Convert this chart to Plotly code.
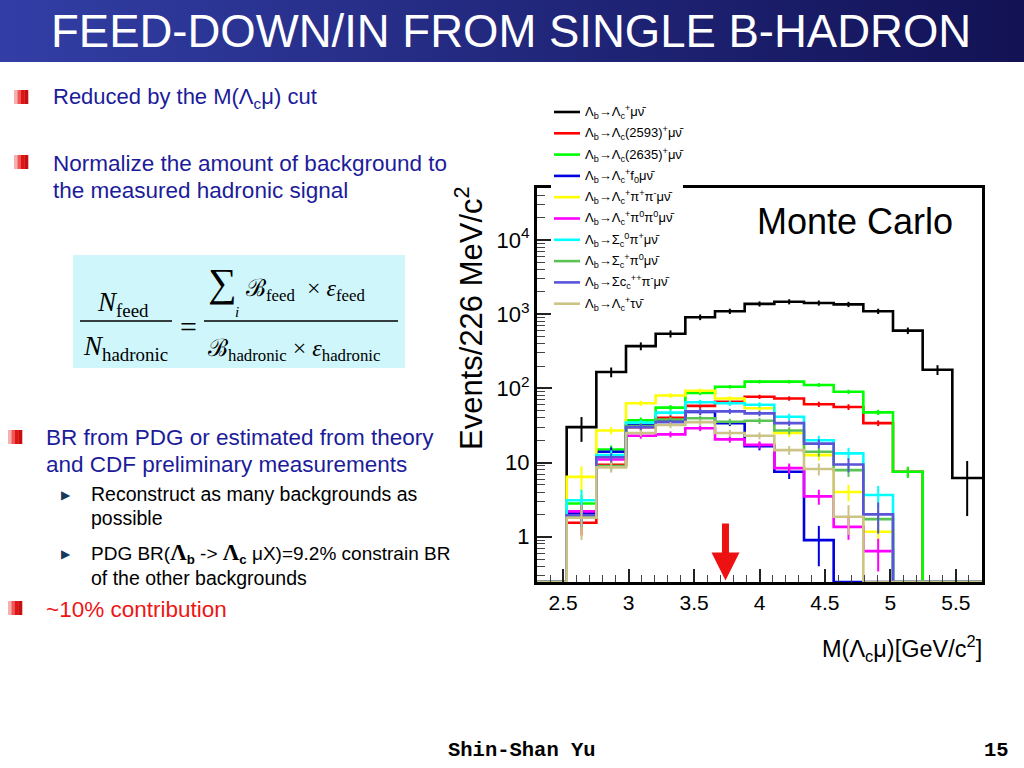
import plotly.graph_objects as go

# ---------------- data ----------------
bin_lo = 2.3
bin_hi = 5.7
n_bins = 15

series_names = [
    "Λ<sub>b</sub>→Λ<sub>c</sub><sup>+</sup>μν̄",
    "Λ<sub>b</sub>→Λ<sub>c</sub>(2593)<sup>+</sup>μν̄",
    "Λ<sub>b</sub>→Λ<sub>c</sub>(2635)<sup>+</sup>μν̄",
    "Λ<sub>b</sub>→Λ<sub>c</sub><sup>+</sup>f<sub>0</sub>μν̄",
    "Λ<sub>b</sub>→Λ<sub>c</sub><sup>+</sup>π<sup>+</sup>π<sup>-</sup>μν̄",
    "Λ<sub>b</sub>→Λ<sub>c</sub><sup>+</sup>π<sup>0</sup>π<sup>0</sup>μν̄",
    "Λ<sub>b</sub>→Σ<sub>c</sub><sup>0</sup>π<sup>+</sup>μν̄",
    "Λ<sub>b</sub>→Σ<sub>c</sub><sup>+</sup>π<sup>0</sup>μν̄",
    "Λ<sub>b</sub>→Σc<sub>c</sub><sup>++</sup>π<sup>-</sup>μν̄",
    "Λ<sub>b</sub>→Λ<sub>c</sub><sup>+</sup>τν̄",
]
series_colors = ["#000000", "#ff0000", "#00ff00", "#0000e0", "#ffff00",
                 "#ff00ff", "#00ffff", "#59c454", "#5954d8", "#ccc386"]

lc_mu_nu      = [0, 30, 166, 371, 544, 910, 1093, 1375, 1470, 1416, 1355, 1093, 600, 178, 6.2]
lc2593_mu_nu  = [0, 1.54, 9.3, 30, 40, 58, 66, 77, 73, 61, 56, 34, 7.5, 0, 0]
lc2635_mu_nu  = [0, 2.8, 15, 37, 55, 87, 105, 123, 123, 111, 90, 47.5, 7.5, 0, 0]
lc_f0_mu_nu   = [0, 2.1, 14, 32, 36, 48, 34, 16.6, 7.5, 0.9, 0, 0, 0, 0, 0]
lc_pipi_mu_nu = [0, 6.4, 27, 63, 80, 93, 73, 54, 25, 12.6, 4.0, 1.17, 0, 0, 0]
lc_pi0pi0_mu_nu = [0, 2.2, 11, 23, 24, 29, 20.5, 17.3, 8.4, 3.5, 1.36, 0.64, 0, 0, 0]
sc0_pi_mu_nu  = [0, 3.1, 12.6, 34.5, 47, 65, 63, 60, 41.5, 20, 13.3, 3.65, 0, 0, 0]
scp_pi0_mu_nu = [0, 1.9, 9, 31, 38, 39.5, 35.5, 36.5, 27, 14, 7.9, 1.73, 0, 0, 0]
scpp_pi_mu_nu = [0, 1.95, 11.8, 30, 35, 49, 49, 46, 34, 18, 9.4, 2.0, 0, 0, 0]
lc_tau_nu     = [0, 1.8, 8.6, 25, 32, 35, 25, 23, 14.7, 8.2, 1.86, 0, 0, 0, 0]

err_lc_mu_nu      = [0, 11, 25, 45, 60, 80, 90, 110, 115, 112, 110, 90, 60, 27, 4.3]
err_lc2593_mu_nu  = [0, 0.5, 1.2, 3, 4, 5, 5, 5, 5, 5, 5, 3, 1, 0, 0]
err_lc2635_mu_nu  = [0, 0.9, 2, 3.5, 4.5, 6, 6, 7, 7, 7, 6, 4, 1.3, 0, 0]
err_lc_f0_mu_nu   = [0, 0.6, 2.0, 3, 3, 4, 3, 2, 1.5, 0.5, 0, 0, 0, 0, 0]
err_lc_pipi_mu_nu = [0, 2.5, 3, 5, 6, 7, 6, 5, 3, 2, 1, 0.35, 0, 0, 0]
err_lc_pi0pi0_mu_nu = [0, 0.7, 1.5, 2, 2.2, 2.5, 2, 2, 1.3, 0.8, 0.45, 0.3, 0, 0, 0]
err_sc0_pi_mu_nu  = [0, 1.2, 2, 3, 4, 5, 5, 5, 4, 3, 2.5, 1.2, 0, 0, 0]
err_scp_pi0_mu_nu = [0, 0.6, 1.3, 3, 3, 3.5, 3.5, 3.5, 3, 2, 1.5, 0.6, 0, 0, 0]
err_scpp_pi_mu_nu = [0, 0.6, 1.5, 3, 3, 4, 4, 4, 3, 2.5, 2, 0.9, 0, 0, 0]
err_lc_tau_nu     = [0, 0.9, 1.3, 2.5, 3, 3, 2.5, 2.5, 2, 1.5, 0.8, 0, 0, 0, 0]

series_values = [lc_mu_nu, lc2593_mu_nu, lc2635_mu_nu, lc_f0_mu_nu, lc_pipi_mu_nu,
                 lc_pi0pi0_mu_nu, sc0_pi_mu_nu, scp_pi0_mu_nu, scpp_pi_mu_nu, lc_tau_nu]
series_errors = [err_lc_mu_nu, err_lc2593_mu_nu, err_lc2635_mu_nu, err_lc_f0_mu_nu,
                 err_lc_pipi_mu_nu, err_lc_pi0pi0_mu_nu, err_sc0_pi_mu_nu,
                 err_scp_pi0_mu_nu, err_scpp_pi_mu_nu, err_lc_tau_nu]

x_tick_vals = [2.5, 3, 3.5, 4, 4.5, 5, 5.5]
x_tick_text = ["2.5", "3", "3.5", "4", "4.5", "5", "5.5"]
y_tick_vals = [1, 10, 100, 1000, 10000]
y_tick_text = ["1", "10", "10<sup>2</sup>", "10<sup>3</sup>", "10<sup>4</sup>"]
mass_cut = 3.74

# ---------------- layout helpers ----------------
W, H = 1024, 768
Y_LOG_MIN, Y_LOG_MAX = -0.61, 4.70
FLOOR = 10 ** Y_LOG_MIN


def px(x):
    return x / W


def py(y):
    return 1 - y / H


width = (bin_hi - bin_lo) / n_bins
edges = [bin_lo + k * width for k in range(n_bins + 1)]
centers = [bin_lo + (k + 0.5) * width for k in range(n_bins)]

NARROW = "Liberation Sans Narrow, Arial Narrow, Liberation Sans, Arial"
SANS = "Liberation Sans, Arial, sans-serif"
SERIF = "Liberation Serif, Times New Roman, DejaVu Serif, serif"

fig = go.Figure()

for name, vals, errs, col in zip(series_names, series_values, series_errors, series_colors):
    ys = [v if v > 0 else FLOOR for v in vals]
    fig.add_trace(go.Scatter(
        x=edges, y=ys + [ys[-1]], mode="lines", line=dict(color=col, width=2.6, shape="hv"),
        name=name, showlegend=False, hoverinfo="skip"))
    cx = [c for c, v in zip(centers, vals) if v > 0]
    cy = [v for v in vals if v > 0]
    ce = [e for e, v in zip(errs, vals) if v > 0]
    fig.add_trace(go.Scatter(
        x=cx, y=cy, mode="markers", marker=dict(size=2, color=col),
        error_y=dict(type="data", array=ce, width=0, thickness=2, color=col),
        showlegend=False, hoverinfo="skip"))

# y minor ticks (2..9 per decade)
y_minor = []
for d in range(-1, 5):
    for m in range(2, 10):
        v = m * 10 ** d
        if FLOOR < v < 10 ** Y_LOG_MAX:
            y_minor.append(v)

fig.update_layout(
    width=W, height=H,
    margin=dict(l=0, r=0, t=0, b=0),
    paper_bgcolor="white", plot_bgcolor="white",
    showlegend=False,
    xaxis=dict(
        domain=[px(537), px(982)], range=[bin_lo, bin_hi],
        tickmode="array", tickvals=x_tick_vals, ticktext=x_tick_text,
        ticks="inside", ticklen=13, tickwidth=1.5, tickcolor="#222",
        minor=dict(ticks="inside", ticklen=7, tickwidth=1, tickcolor="#444",
                   tick0=bin_lo, dtick=0.1, showgrid=False),
        showline=True, linewidth=3, linecolor="black", mirror=True,
        showgrid=False, zeroline=False,
        tickfont=dict(family=NARROW, size=21, color="black"),
    ),
    yaxis=dict(
        domain=[py(582), py(188)], type="log", range=[Y_LOG_MIN, Y_LOG_MAX],
        tickmode="array", tickvals=y_tick_vals, ticktext=y_tick_text,
        ticks="inside", ticklen=15, tickwidth=1.5, tickcolor="#222",
        minor=dict(ticks="inside", ticklen=8, tickwidth=1, tickcolor="#444",
                   tickmode="array", tickvals=y_minor, showgrid=False),
        showline=True, linewidth=3, linecolor="black", mirror=True,
        showgrid=False, zeroline=False,
        tickfont=dict(family=NARROW, size=22, color="black"),
    ),
)

shapes = []
annotations = []

# title bar gradient
n_strips = 64
c0 = (50, 62, 165)
c1 = (18, 18, 85)
for i in range(n_strips):
    t = i / (n_strips - 1)
    col = "rgb(%d,%d,%d)" % tuple(round(a + (b - a) * t) for a, b in zip(c0, c1))
    shapes.append(dict(type="rect", xref="paper", yref="paper",
                       x0=i / n_strips, x1=(i + 1) / n_strips + 0.002,
                       y0=py(62), y1=1, fillcolor=col, line=dict(width=0), layer="below"))
annotations.append(dict(text="FEED-DOWN/IN FROM SINGLE B-HADRON", xref="paper", yref="paper",
                        x=px(511), y=py(31), showarrow=False, xanchor="center", yanchor="middle",
                        font=dict(family=SANS, size=45.5, color="white")))


def bullet_square(x, y):
    for j, col in enumerate(["#f7b0b0", "#ee5555", "#dd1515", "#c80f0f"]):
        shapes.append(dict(type="rect", xref="paper", yref="paper",
                           x0=px(x + j * 3.5), x1=px(x + (j + 1) * 3.5 + 0.3),
                           y0=py(y + 7), y1=py(y - 7), fillcolor=col, line=dict(width=0)))


def text(s, x, y, size, color="black", family=SANS, anchor="left"):
    annotations.append(dict(text=s, xref="paper", yref="paper", x=px(x), y=py(y),
                            showarrow=False, xanchor=anchor, yanchor="middle",
                            font=dict(family=family, size=size, color=color)))


BLUE = "#1c1c9a"
bullet_square(14, 97)
text("Reduced by the M(Λ<sub>c</sub>μ) cut", 51, 98, 22, BLUE)
bullet_square(14, 162)
text("Normalize the amount of background to", 51, 163, 22.5, BLUE)
text("the measured hadronic signal", 51, 190, 22.5, BLUE)

# formula box
shapes.append(dict(type="rect", xref="paper", yref="paper", x0=px(73), x1=px(405),
                   y0=py(368), y1=py(255), fillcolor="#cff7fb", line=dict(width=0)))
shapes.append(dict(type="line", xref="paper", yref="paper", x0=px(80), x1=px(172),
                   y0=py(321), y1=py(321), line=dict(color="black", width=1.3)))
shapes.append(dict(type="line", xref="paper", yref="paper", x0=px(204), x1=px(398),
                   y0=py(321), y1=py(321), line=dict(color="black", width=1.3)))
text("<i>N</i><sub>feed</sub>", 95, 304, 27, "black", SERIF)
text("<i>N</i><sub>hadronic</sub>", 81, 348, 27, "black", SERIF)
text("=", 188, 326, 30, "black", SERIF, "center")
text("∑", 222, 283, 40, "black", SERIF, "center")
text("<i>i</i>", 237, 312, 15, "black", SERIF, "center")
text("ℬ<sub>feed</sub>  × <i>ε</i><sub>feed</sub>", 244, 290, 24, "black", SERIF)
text("ℬ<sub>hadronic</sub> × <i>ε</i><sub>hadronic</sub>", 206, 350, 24, "black", SERIF)

bullet_square(8, 437)
text("BR from PDG or estimated from theory", 44, 437, 22.5, BLUE)
text("and CDF preliminary measurements", 44, 464, 22.5, BLUE)
NAVY = "#17375e"
text("▶", 66, 495, 12, NAVY, "DejaVu Sans", "center")
text("Reconstruct as many backgrounds as", 89, 494, 19.5, "black")
text("possible", 89, 518, 19.5, "black")
text("▶", 66, 554, 12, NAVY, "DejaVu Sans", "center")
text("PDG BR(<span style=\"font-family:Liberation Serif;font-size:23px\"><b>Λ</b></span><b><sub>b</sub></b> -&gt; "
     "<span style=\"font-family:Liberation Serif;font-size:23px\"><b>Λ</b></span><b><sub>c</sub></b> μX)=9.2% constrain BR",
     89, 553, 19, "black")
text("of the other backgrounds", 89, 578, 19.5, "black")
bullet_square(8, 608)
text("~10% contribution", 44, 609, 22.5, "#ee1515")

# axis titles and plot label
annotations.append(dict(text="Events/226 MeV/c<sup>2</sup>", xref="paper", yref="paper",
                        x=px(469), y=py(318), showarrow=False, textangle=-90,
                        xanchor="center", yanchor="middle",
                        font=dict(family=SANS, size=31, color="black")))
text("M(Λ<sub>c</sub>μ)[GeV/c<sup>2</sup>]", 984, 648, 23.5, "black", NARROW, "right")
text("Monte Carlo", 855, 221, 36, "black", NARROW, "center")

# legend box (manual, ROOT style)
shapes.append(dict(type="rect", xref="paper", yref="paper", x0=px(551), x1=px(683),
                   y0=py(318), y1=py(95), fillcolor="white", line=dict(width=0), layer="above"))
for i, (name, col) in enumerate(zip(series_names, series_colors)):
    yy = 112 + i * 21.3
    shapes.append(dict(type="line", xref="paper", yref="paper", x0=px(554), x1=px(580),
                       y0=py(yy), y1=py(yy), line=dict(color=col, width=2.6), layer="above"))
    text(name, 583, yy, 13, "black", NARROW)

# mass cut arrow
annotations.append(dict(text="", x=mass_cut, y=Y_LOG_MIN + 0.02, xref="x", yref="y",
                        ax=mass_cut, ay=0.2, axref="x", ayref="y", showarrow=True,
                        arrowhead=2, arrowsize=0.8, arrowwidth=7, arrowcolor="#ee1111",
                        standoff=0))

# footer
MONO = "Liberation Mono, Courier New, monospace"
text("<b>Shin-Shan Yu</b>", 522, 750, 20.5, "black", MONO, "center")
text("<b>15</b>", 996, 750, 20.5, "black", MONO, "center")

fig.update_layout(shapes=shapes, annotations=annotations)

fig.write_html("out.html", config={"displayModeBar": False},
               post_script="document.body.style.margin='0';document.body.style.overflow='hidden';")
